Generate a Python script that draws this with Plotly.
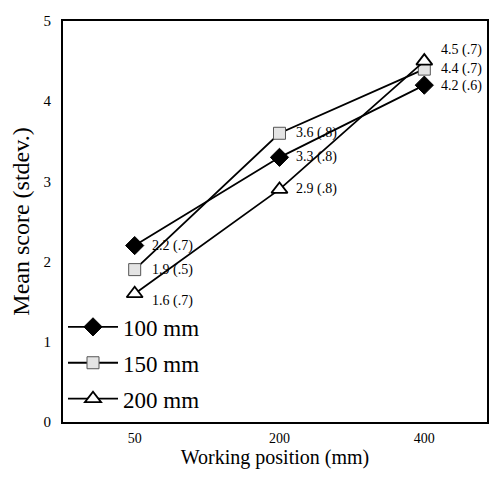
import plotly.graph_objects as go

positions = ["50", "200", "400"]
series_names = ["100 mm", "150 mm", "200 mm"]
mean_100 = [2.2, 3.3, 4.2]
sd_100 = [".7", ".8", ".6"]
mean_150 = [1.9, 3.6, 4.4]
sd_150 = [".5", ".8", ".7"]
mean_200 = [1.6, 2.9, 4.5]
sd_200 = [".7", ".8", ".7"]

FONT = "Liberation Serif, Times New Roman, serif"

fig = go.Figure()

styles = [
    dict(symbol="diamond", size=14, color="black", line=dict(color="black", width=1)),
    dict(symbol="square", size=12, color="#e4e4e4", line=dict(color="#555555", width=1)),
    dict(symbol="triangle-up", size=14, color="white", line=dict(color="black", width=1.8)),
]
means = [mean_100, mean_150, mean_200]
sds = [sd_100, sd_150, sd_200]

for i, (name, m, st) in enumerate(zip(series_names, means, styles)):
    fig.add_trace(go.Scatter(
        x=positions, y=m, mode="lines+markers", name=name,
        legendgroup=name,
        line=dict(color="black", width=1.8),
        marker=st,
    ))

# value labels (x given as category index)
yshifts = [[0, 0, -1], [0, 0, 0], [-7, 0, 11]]
for i, (m, s) in enumerate(zip(means, sds)):
    for j, v in enumerate(m):
        fig.add_annotation(
            x=j, y=v, text=f"{v} ({s[j]})", showarrow=False,
            xanchor="left", xshift=15, yshift=yshifts[i][j],
            font=dict(family=FONT, size=14, color="black"),
        )

fig.update_layout(
    width=482, height=464,
    margin=dict(l=55, r=1, t=13, b=50),
    plot_bgcolor="white", paper_bgcolor="white",
    font=dict(family=FONT, color="black"),
    showlegend=True,
    legend=dict(
        x=0.0, y=0.004, xanchor="left", yanchor="bottom",
        bgcolor="white", borderwidth=0,
        font=dict(family=FONT, size=23, color="black"),
        tracegroupgap=3,
        itemwidth=50,
    ),
    xaxis=dict(
        type="category", range=[-0.495, 2.433],
        showline=True, linecolor="black", linewidth=1.8, mirror=True,
        showgrid=False, ticks="", ticklabelstandoff=2,
        tickfont=dict(family=FONT, size=14),
        title=dict(text="Working position (mm)", font=dict(family=FONT, size=20), standoff=4),
    ),
    yaxis=dict(
        range=[0, 5], dtick=1,
        showline=True, linecolor="black", linewidth=1.8, mirror=True,
        showgrid=False, zeroline=False, ticks="", ticklabelstandoff=7,
        tickfont=dict(family=FONT, size=15),
        title=dict(text="Mean score (stdev.)", font=dict(family=FONT, size=24), standoff=8),
    ),
)

fig.write_html("out.html")
